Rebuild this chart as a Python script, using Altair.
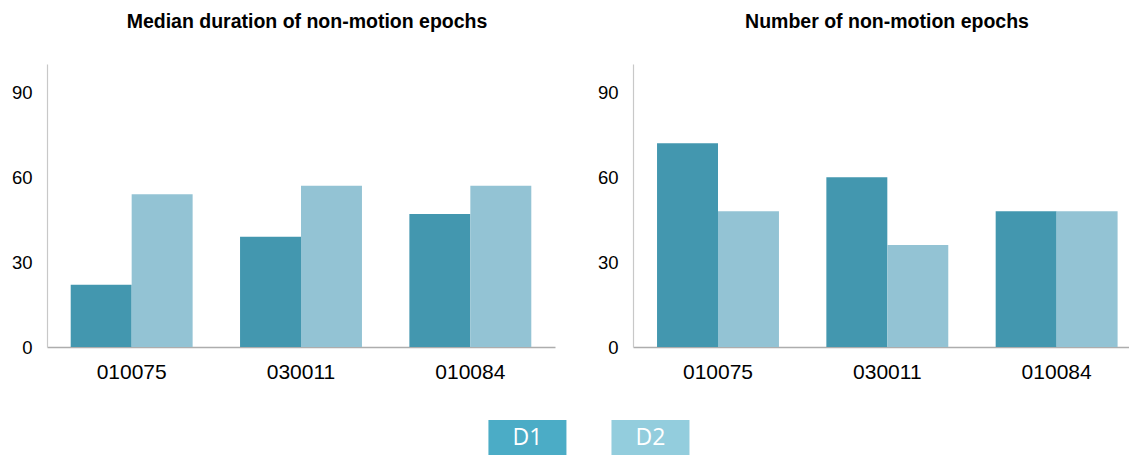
import altair as alt
import pandas as pd

samples = ["010075", "030011", "010084"]
series = ["D1", "D2"]

duration_d1 = [22, 39, 47]
duration_d2 = [54, 57, 57]
count_d1 = [72, 60, 48]
count_d2 = [48, 36, 48]

bar_colors = ["#4397AF", "#93C3D4"]
legend_colors = ["#4BACC6", "#93CDDD"]
y_ticks = [0, 30, 60, 90]

title_left = "Median duration of non-motion epochs"
title_right = "Number of non-motion epochs"


def make_df(d1, d2):
    rows = []
    for s, a, b in zip(samples, d1, d2):
        rows.append({"sample": s, "series": "D1", "value": a})
        rows.append({"sample": s, "series": "D2", "value": b})
    return pd.DataFrame(rows)


def panel(title, d1, d2, width, x_scale):
    df = make_df(d1, d2)
    return (
        alt.Chart(df)
        .mark_bar()
        .encode(
            x=alt.X(
                "sample:N",
                sort=samples,
                title=None,
                scale=x_scale,
                axis=alt.Axis(
                    labelAngle=0,
                    ticks=False,
                    labelFontSize=21,
                    labelPadding=14,
                    labelColor="#000000",
                    domainColor="#ADADAD",
                    domainWidth=1.5,
                    labelFont="Liberation Sans",
                ),
            ),
            xOffset=alt.XOffset("series:N", sort=series),
            y=alt.Y(
                "value:Q",
                title=None,
                scale=alt.Scale(domain=[0, 100], nice=False),
                axis=alt.Axis(
                    values=y_ticks,
                    ticks=False,
                    grid=False,
                    labelFontSize=18.5,
                    labelPadding=15,
                    labelColor="#000000",
                    domainColor="#C8C8C8",
                    domainWidth=1.2,
                    labelFont="Liberation Sans",
                    minExtent=39,
                    maxExtent=39,
                ),
            ),
            color=alt.Color(
                "series:N",
                sort=series,
                scale=alt.Scale(domain=series, range=bar_colors),
                legend=None,
            ),
        )
        .properties(
            width=width,
            height=283,
            title=alt.TitleParams(
                title,
                fontSize=19.5,
                fontWeight="bold",
                font="Liberation Sans",
                color="#000000",
                anchor="middle",
                frame="group",
                offset=32,
                dx=6,
            ),
        )
    )


left = panel(
    title_left, duration_d1, duration_d2, 508,
    alt.Scale(paddingInner=0.28, paddingOuter=0.14),
)
right = panel(
    title_right, count_d1, count_d2, 496,
    alt.Scale(paddingInner=0.28, paddingOuter=0.1047, align=0.678),
)

legend_df = pd.DataFrame({"key": series})
legend_x = alt.X(
    "key:N",
    sort=series,
    axis=None,
    scale=alt.Scale(paddingInner=0.366, paddingOuter=0.971, align=0.504),
)
legend_base = alt.Chart(legend_df).properties(width=440, height=35)
legend_rect = legend_base.mark_rect().encode(
    x=legend_x,
    color=alt.Color(
        "key:N",
        sort=series,
        scale=alt.Scale(domain=series, range=legend_colors),
        legend=None,
    ),
)
legend_text = legend_base.mark_text(
    color="white", fontSize=23, font="Open Sans", baseline="middle"
).encode(x=legend_x, text="key:N")
legend = alt.layer(legend_rect, legend_text)

top = alt.hconcat(left, right, spacing=39).resolve_scale(color="independent")
chart = (
    alt.vconcat(top, legend, spacing=38, center=True)
    .resolve_scale(color="independent")
    .properties(padding={"left": 0, "top": 3, "right": 0, "bottom": 0})
    .configure_view(stroke=None)
    .configure_axis(labelFont="Liberation Sans")
)

chart.save("out.html", embed_options={"renderer": "svg", "actions": False})
